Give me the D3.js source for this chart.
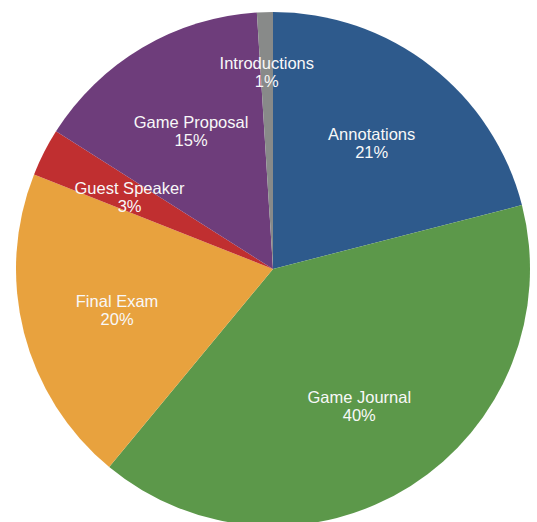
<!DOCTYPE html>
<html><head><meta charset="utf-8">
<script src="https://cdn.jsdelivr.net/npm/d3@7"></script>
<style>html,body{margin:0;padding:0;background:#fff;overflow:hidden}</style>
</head><body>
<svg id="chart" width="537" height="522"></svg>
<script>
const categories = ["Annotations","Game Journal","Final Exam","Guest Speaker","Game Proposal","Introductions"];
const values = [21,40,20,3,15,1];
const colors = ["#2e5a8c","#5c984a","#e8a23e","#c02f30","#6e3d7b","#888a89"];

const W=537,H=522,cx=273,cy=269,R=257;
const svg=d3.select("#chart");
const g=svg.append("g").attr("transform",`translate(${cx},${cy})`);
const data=categories.map((c,i)=>({name:c,value:values[i],color:colors[i]}));
const pie=d3.pie().value(d=>d.value).sort(null);
const arcs=pie(data);
const arc=d3.arc().innerRadius(0).outerRadius(R);
g.selectAll("path").data(arcs).join("path").attr("d",arc).attr("fill",d=>d.data.color);
const total=d3.sum(values);
const lab=g.selectAll("g.lab").data(arcs).join("g").attr("class","lab")
  .attr("transform",d=>{
    const frac=(d.endAngle-d.startAngle)/(2*Math.PI);
    const r=frac<0.02?198:161;
    const a=(d.startAngle+d.endAngle)/2;
    return `translate(${r*Math.sin(a)},${-r*Math.cos(a)})`;
  });
const font="Helvetica,'Liberation Sans',Arial,sans-serif";
lab.append("text").attr("text-anchor","middle").attr("y",-2)
  .attr("fill","#f8f8f8").style("font-family",font).style("font-size","16.5px")
  .text(d=>d.data.name);
lab.append("text").attr("text-anchor","middle").attr("y",16)
  .attr("fill","#f8f8f8").style("font-family",font).style("font-size","16.5px")
  .text(d=>Math.round(d.data.value/total*100)+"%");
</script>
</body></html>
